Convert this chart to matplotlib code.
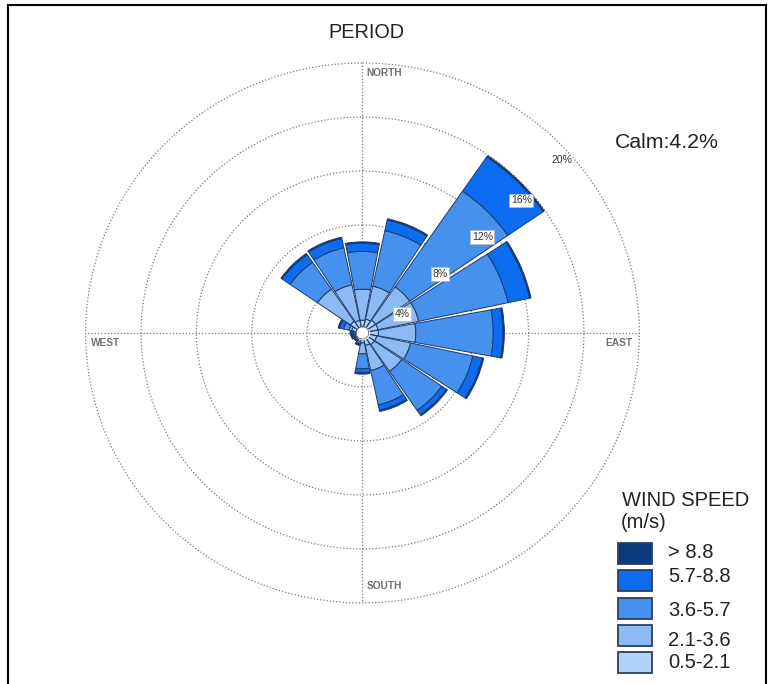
import numpy as np
import matplotlib
matplotlib.use("Agg")
import matplotlib.pyplot as plt
from matplotlib.patches import Rectangle
from matplotlib.lines import Line2D

plt.rcParams['font.family'] = ['Liberation Sans', 'DejaVu Sans']

# Wind directions (clockwise from north) and speed classes
directions = ["N", "NNE", "NE", "ENE", "E", "ESE", "SE", "SSE",
              "S", "SSW", "SW", "WSW", "W", "WNW", "NW", "NNW"]
speed_classes = ["0.5-2.1", "2.1-3.6", "3.6-5.7", "5.7-8.8", "> 8.8"]
class_colors = ["#b0d2f8", "#8cbaf3", "#4691ee", "#0b6cf0", "#0a3a7c"]

# Frequency (%) of each speed class per direction
freq_05_21 = [0.5, 0.6, 0.7, 0.7, 0.7, 0.6, 0.6, 0.5, 0.3, 0.2, 0.1, 0.1, 0.1, 0.35, 0.6, 0.5]
freq_21_36 = [2.3, 2.5, 3.0, 3.0, 2.7, 2.5, 2.4, 1.9, 0.8, 0.15, 0.1, 0.1, 0.1, 0.2, 2.9, 2.7]
freq_36_57 = [2.8, 4.2, 8.6, 6.6, 5.6, 4.6, 3.5, 2.6, 1.1, 0.07, 0.05, 0.1, 0.1, 0.4, 2.4, 2.8]
freq_57_88 = [0.6, 0.8, 3.1, 1.6, 0.7, 0.7, 0.4, 0.4, 0.3, 0.04, 0.03, 0.05, 0.1, 0.3, 0.7, 0.7]
freq_gt_88 = [0.1, 0.1, 0.1, 0.1, 0.1, 0.1, 0.1, 0.1, 0.1, 0.04, 0.0, 0.05, 0.05, 0.1, 0.1, 0.1]

calm_pct = 4.2
calm_radius = 0.45
ring_values = [4, 8, 12, 16, 20]
compass_labels = ["NORTH", "EAST", "SOUTH", "WEST"]

W, H = 771, 684
fig = plt.figure(figsize=(W / 100, H / 100), dpi=100)

ax = fig.add_axes([0.1057, 0.1126, 0.7289, 0.8012], projection='polar')
ax.set_aspect('auto')
ax.set_theta_zero_location('N')
ax.set_theta_direction(-1)
ax.set_ylim(0, 20.3)
ax.grid(False)
ax.set_xticks([])
ax.set_yticks([])
ax.spines['polar'].set_visible(False)
ax.patch.set_alpha(0)

theta = np.deg2rad(np.arange(len(directions)) * 22.5)
width = np.deg2rad(22.5) * 0.93

# Dotted rings and cardinal axes
circ = np.linspace(0, 2 * np.pi, 721)
grid_style = dict(color='#7a7a7a', lw=0.9, ls=(0, (1, 1.6)), zorder=1)
for rv in ring_values:
    ax.plot(circ, np.full_like(circ, rv), **grid_style)
for a in range(4):
    ang = np.deg2rad(a * 90)
    ax.plot([ang, ang], [0, ring_values[-1]], **grid_style)

# Stacked wind-rose bars
series = [freq_05_21, freq_21_36, freq_36_57, freq_57_88, freq_gt_88]
bottom = np.full(len(directions), calm_radius)
for vals, col in zip(series, class_colors):
    vals = np.asarray(vals)
    ax.bar(theta, vals, width=width, bottom=bottom, color=col,
           edgecolor='#1d3a6b', linewidth=0.7, zorder=2)
    bottom = bottom + vals

# Calm circle
ax.fill_between(circ, 0, calm_radius, color='white', zorder=3)
ax.plot(circ, np.full_like(circ, calm_radius), color='#555555', lw=0.5, zorder=3)

# Ring labels
ring_label_pos = [(64, 3.2), (52, 7.1), (50.6, 11.2), (49.4, 15.1), (48.4, 19.3)]
for rv, (ang, rr) in zip(ring_values, ring_label_pos):
    boxed = rv < ring_values[-1]
    ax.text(np.deg2rad(ang), rr, f"{rv}%", fontsize=7.5, color='#333333',
            ha='center', va='center', zorder=5,
            bbox=dict(boxstyle='square,pad=0.15', fc='white', ec='#bbbbbb', lw=0.5) if boxed else None)

# Compass labels
rmax = ring_values[-1]
compass_style = dict(fontsize=7.3, color='#707070', fontweight='bold',
                     textcoords='offset pixels', zorder=5)
ax.annotate(compass_labels[0], (0, rmax), xytext=(4, -5), ha='left', va='top', **compass_style)
ax.annotate(compass_labels[1], (np.pi / 2, rmax), xytext=(-7, -10), ha='right', va='center', **compass_style)
ax.annotate(compass_labels[2], (np.pi, rmax), xytext=(4, 17), ha='left', va='center', **compass_style)
ax.annotate(compass_labels[3], (3 * np.pi / 2, rmax), xytext=(5, -10), ha='left', va='center', **compass_style)

# Titles
fig.text(366 / W, 1 - 32 / H, "PERIOD", fontsize=14.3, color='#222222', ha='center', va='center')
fig.text(667 / W, 1 - 143 / H, f"Calm:{calm_pct}%", fontsize=15.3, color='#222222', ha='center', va='center')

# Legend
fig.text(622 / W, 1 - 500 / H, "WIND SPEED", fontsize=14.5, color='#222222', ha='left', va='center')
fig.text(621 / W, 1 - 523 / H, "(m/s)", fontsize=14.5, color='#222222', ha='left', va='center')
patch_tops = [543, 570, 598, 625, 652]
label_y = [553, 577, 610, 640, 663]
for i, (top, ly) in enumerate(zip(patch_tops, label_y)):
    k = len(speed_classes) - 1 - i
    fig.patches.append(Rectangle((618 / W, 1 - (top + 21) / H), 34 / W, 21 / H,
                                 transform=fig.transFigure, facecolor=class_colors[k],
                                 edgecolor='#2e3f5c', linewidth=1.3))
    fig.text(668 / W, 1 - ly / H, speed_classes[k], fontsize=14.5, color='#222222',
             ha='left', va='center')

# Frame
frame = dict(color='black', lw=1.5, transform=fig.transFigure)
fig.lines.append(Line2D([8 / W, 8 / W], [0, 1 - 5 / H], **frame))
fig.lines.append(Line2D([8 / W, 766 / W], [1 - 5 / H, 1 - 5 / H], **frame))
fig.lines.append(Line2D([766 / W, 766 / W], [0, 1 - 5 / H], **frame))

fig.savefig("out.png", dpi=100)
